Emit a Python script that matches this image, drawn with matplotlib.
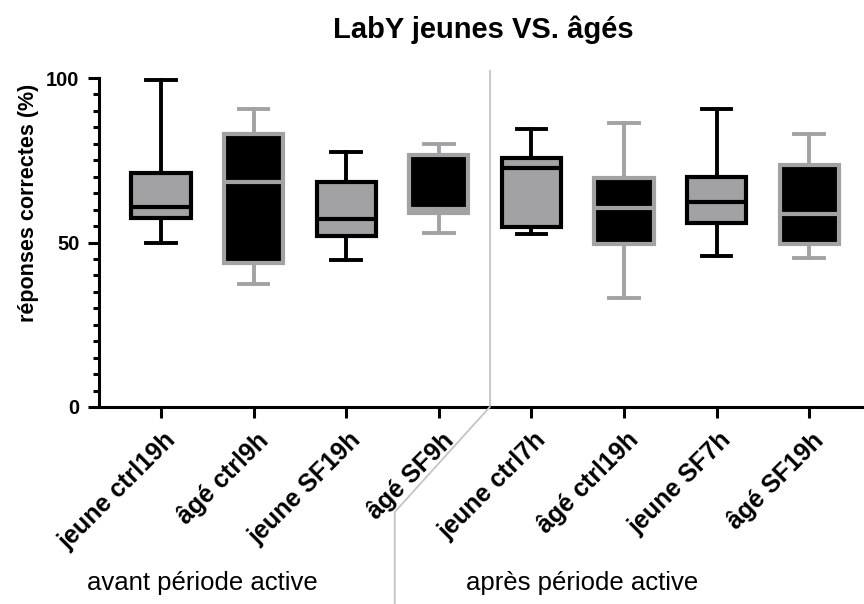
"""LabY jeunes vs âgés: box plots of correct responses (%) before / after the active period."""

import matplotlib
matplotlib.use("Agg")
import matplotlib.pyplot as plt
import matplotlib.transforms as mtransforms

plt.rcParams["font.family"] = ["Liberation Sans", "DejaVu Sans"]

GRAY = "#a2a2a4"
SEP = "#c4c4c4"

# --- data (percent correct) ---
groups = ["jeune ctrl19h", "âgé ctrl9h", "jeune SF19h", "âgé SF9h",
          "jeune ctrl7h", "âgé ctrl19h", "jeune SF7h", "âgé SF19h"]
whislo = [50.0, 37.3, 44.6, 52.8, 52.6, 33.1, 46.0, 45.4]
q1 = [57.5, 43.8, 52.0, 59.0, 54.8, 49.4, 55.8, 49.4]
med = [60.7, 68.5, 57.1, 60.2, 72.5, 60.6, 62.4, 58.8]
q3 = [71.0, 83.0, 68.5, 76.7, 75.8, 69.5, 70.0, 73.6]
whishi = [99.5, 90.6, 77.6, 79.8, 84.4, 86.2, 90.6, 83.1]
periods = ["avant période active", "après période active"]


def box_stats(idx):
    return [{"whislo": whislo[i], "q1": q1[i], "med": med[i], "q3": q3[i],
             "whishi": whishi[i], "fliers": [], "label": groups[i]} for i in idx]


def draw_boxes(ax, idx, face, edge):
    ax.bxp(box_stats(idx), positions=idx, widths=0.64, capwidths=0.32,
           patch_artist=True, showfliers=False, manage_ticks=False,
           boxprops=dict(facecolor=face, edgecolor=edge, linewidth=3.0, zorder=3),
           medianprops=dict(color=edge, linewidth=3.0, solid_capstyle="butt", zorder=4),
           whiskerprops=dict(color=edge, linewidth=2.8, zorder=2),
           capprops=dict(color=edge, linewidth=2.8, zorder=2))


fig = plt.figure(figsize=(8.64, 6.04), dpi=100)
W, H = 864, 604
ax = fig.add_axes([99 / W, 1 - 407 / H, (862 - 99) / W, (407 - 78) / H])

n = len(groups)
young = [i for i in range(n) if groups[i].startswith("jeune")]
old = [i for i in range(n) if not groups[i].startswith("jeune")]
draw_boxes(ax, young, GRAY, "black")
draw_boxes(ax, old, "black", GRAY)

ax.set_ylim(0, 100)
ax.set_xlim(-0.67, 7.57)
for s in ["top", "right"]:
    ax.spines[s].set_visible(False)
for s in ["left", "bottom"]:
    ax.spines[s].set_linewidth(2.2)

ax.set_yticks([0, 50, 100])
ax.set_yticks(range(0, 101, 5), minor=True)
ax.tick_params(axis="y", which="major", length=8, width=2.2, pad=6, labelsize=14.5)
ax.tick_params(axis="y", which="minor", length=4.5, width=2.2)
for lab in ax.get_yticklabels():
    lab.set_fontweight("bold")

ax.set_xticks(range(n))
ax.set_xticklabels(groups, rotation=45, ha="right", va="top",
                   rotation_mode="anchor", fontsize=18, fontweight="bold")
ax.tick_params(axis="x", length=8, width=2.2, pad=7)
shift = mtransforms.ScaledTranslation(2 / 100, 0, fig.dpi_scale_trans)
for lab in ax.get_xticklabels():
    lab.set_transform(lab.get_transform() + shift)

ax.set_ylabel("réponses correctes (%)", fontsize=15.5, fontweight="bold")
ax.yaxis.set_label_coords(-0.078, 0.62)
fig.text(483 / W, 1 - 30 / H, "LabY jeunes VS. âgés", ha="center", va="center",
         fontsize=21, fontweight="bold")

# separator between the two periods
split = 3.55
ax.plot([split, split], [0, 102], color=SEP, lw=1.3, clip_on=False, zorder=1)
p_axis = ax.transData.transform((split, 0))
p_bend = (p_axis[0] - 95, p_axis[1] - 105)
fig.add_artist(plt.Line2D([p_axis[0], p_bend[0], p_bend[0]], [p_axis[1], p_bend[1], 0],
                          transform=None, color=SEP, lw=1.3))

# period labels
fig.text(202 / W, 1 - 583 / H, periods[0], ha="center", va="center", fontsize=18.5)
fig.text(582 / W, 1 - 583 / H, periods[1], ha="center", va="center", fontsize=18.5)

fig.savefig("out.png", dpi=100)
